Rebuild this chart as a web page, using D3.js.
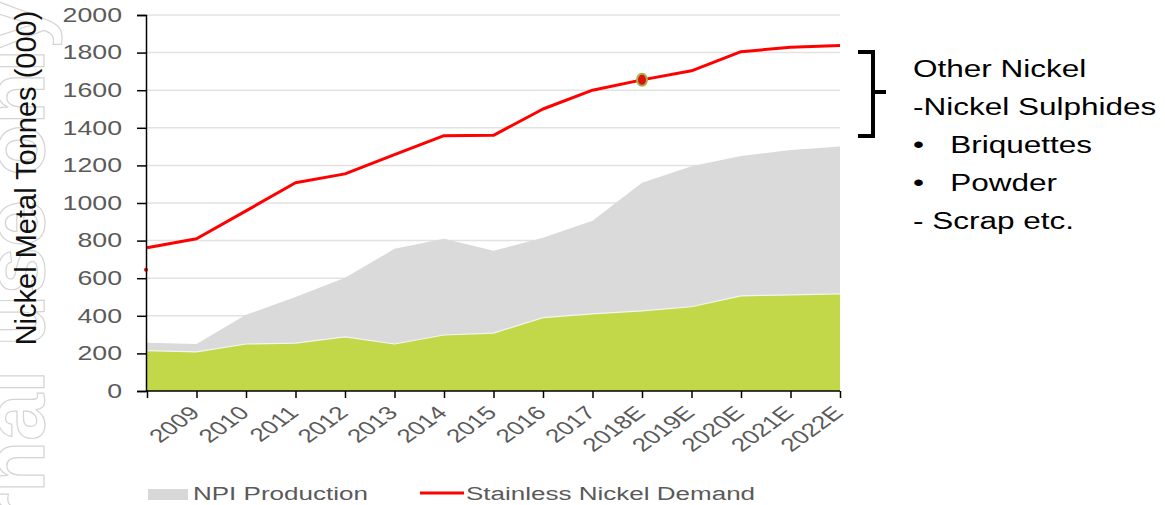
<!DOCTYPE html>
<html>
<head>
<meta charset="utf-8">
<script src="https://cdn.jsdelivr.net/npm/d3@7"></script>
<style>
  body { margin: 0; background: #fff; }
  svg { display: block; font-family: "Liberation Sans", Arial, sans-serif; }
</style>
</head>
<body>
<div id="chart"></div>
<script>
// data
const years = ["2008","2009","2010","2011","2012","2013","2014","2015","2016","2017","2018E","2019E","2020E","2021E","2022E"];
const otherNickel = [215, 208, 250, 255, 288, 250, 298, 308, 390, 410, 426, 448, 506, 511, 517];
const npiTotal = [256, 250, 405, 500, 602, 756, 810, 746, 815, 906, 1108, 1195, 1250, 1282, 1300];
const demand = [762, 810, 958, 1108, 1155, 1257, 1358, 1360, 1500, 1600, 1655, 1703, 1805, 1828, 1838];
const yTicks = [0, 200, 400, 600, 800, 1000, 1200, 1400, 1600, 1800, 2000];
const noteLines = ["Other Nickel", "-Nickel Sulphides", "\u2022   Briquettes", "\u2022   Powder", "- Scrap etc."];

function drawChart(){
  let width = 1165, height = 505;
  let margin = {top: 15, left: 146, right: 325, bottom: 114};
  let S = 1.37; //the source picture is stretched sideways, texts too

  let svg = d3.select("#chart").append("svg")
    .attr("width", width)
    .attr("height", height);

  //watermark
  svg.append("text")
    .attr("transform", "translate(44,677) rotate(-90)")
    .attr("font-size", 85)
    .attr("font-weight", "bold")
    .attr("fill", "none")
    .attr("stroke", "#d4d4d4")
    .attr("stroke-width", 1.2)
    .text("Internal use only");

  let x = d3.scalePoint()
    .domain(years)
    .range([margin.left + 1, width - margin.right]);

  let y = d3.scaleLinear()
    .domain([0, 2000])
    .range([height - margin.bottom, margin.top]);

  //grid
  svg.append("g")
    .selectAll("line")
    .data(yTicks.slice(1))
    .join("line")
    .attr("x1", margin.left)
    .attr("x2", width - margin.right)
    .attr("y1", d => y(d))
    .attr("y2", d => y(d))
    .attr("stroke", "#e2e2e2")
    .attr("stroke-width", 1.5);

  let rows = years.map((yr, i) => ({yr: yr, low: otherNickel[i], top: npiTotal[i], dem: demand[i]}));

  //npi area (grey)
  svg.append("path")
    .datum(rows)
    .attr("fill", "#dadada")
    .attr("d", d3.area().x(d => x(d.yr)).y0(d => y(d.low)).y1(d => y(d.top)));

  //other nickel (green)
  svg.append("path")
    .datum(rows)
    .attr("fill", "#c2d849")
    .attr("d", d3.area().x(d => x(d.yr)).y0(y(0)).y1(d => y(d.low)));

  svg.append("path")
    .datum(rows)
    .attr("fill", "none")
    .attr("stroke", "#f4f4f4")
    .attr("stroke-width", 1.2)
    .attr("d", d3.line().x(d => x(d.yr)).y(d => y(d.low)));

  //demand line
  svg.append("path")
    .datum(rows)
    .attr("fill", "none")
    .attr("stroke", "#ff0000")
    .attr("stroke-width", 3)
    .attr("stroke-linejoin", "round")
    .attr("d", d3.line().x(d => x(d.yr)).y(d => y(d.dem)));

  //highlighted point 2018E
  svg.append("ellipse")
    .attr("cx", x("2018E"))
    .attr("cy", y(demand[10]))
    .attr("rx", 5)
    .attr("ry", 6)
    .attr("fill", "#e01010")
    .attr("stroke", "#9fb34a")
    .attr("stroke-width", 2);

  //stray marker on axis
  svg.append("circle")
    .attr("cx", margin.left)
    .attr("cy", y(645))
    .attr("r", 2)
    .attr("fill", "#ff0000");

  //y axis
  let yAxis = svg.append("g")
    .attr("transform", `translate(${margin.left},0)`)
    .call(d3.axisLeft(y).tickValues(yTicks).tickFormat(d3.format("d")).tickSize(9).tickPadding(15));
  yAxis.select(".domain").attr("stroke", "#000").attr("stroke-width", 1.5);
  yAxis.selectAll(".tick line").attr("stroke", "#000").attr("stroke-width", 1.5);
  yAxis.selectAll("text")
    .attr("x", -24 / S)
    .attr("transform", `scale(${S},1)`)
    .attr("font-size", 19.5)
    .attr("fill", "#5a5a5a")
    .attr("font-family", "Liberation Sans, Arial, sans-serif");

  //x axis
  let xAxis = svg.append("g")
    .attr("transform", `translate(0,${y(0)})`)
    .call(d3.axisBottom(x).tickSize(7).tickSizeOuter(0));
  xAxis.select(".domain").attr("stroke", "#000").attr("stroke-width", 1.5)
    .attr("d", `M${margin.left},0H${x("2022E")}`);
  xAxis.selectAll(".tick line").attr("stroke", "#000").attr("stroke-width", 1.5);
  xAxis.selectAll("text")
    .attr("font-size", 19)
    .attr("fill", "#5a5a5a")
    .attr("font-family", "Liberation Sans, Arial, sans-serif")
    .attr("text-anchor", "end")
    .attr("x", 0).attr("y", 0).attr("dy", 0)
    .attr("transform", `translate(4,23) scale(${S},1) rotate(-45)`)
    .style("display", d => d === "2008" ? "none" : null);

  //y label
  svg.append("text")
    .attr("transform", `translate(36,${(y(0) + y(2000)) / 2 - 25}) rotate(-90)`)
    .attr("text-anchor", "middle")
    .attr("font-size", 29)
    .attr("fill", "#111")
    .text("Nickel Metal Tonnes (000)");

  //legend
  svg.append("rect")
    .attr("x", 148).attr("y", 489).attr("width", 40).attr("height", 11)
    .attr("fill", "#d8d8d8");
  svg.append("text")
    .attr("transform", `translate(193,500) scale(${S},1)`)
    .attr("font-size", 19).attr("fill", "#5a5a5a")
    .text("NPI Production");
  svg.append("line")
    .attr("x1", 420).attr("x2", 464).attr("y1", 493).attr("y2", 493)
    .attr("stroke", "#ff0000").attr("stroke-width", 3);
  svg.append("text")
    .attr("transform", `translate(466,500) scale(${S},1)`)
    .attr("font-size", 19).attr("fill", "#5a5a5a")
    .text("Stainless Nickel Demand");

  //bracket
  svg.append("path")
    .attr("d", "M858,52 H873 V136 H858 M873,92 H886")
    .attr("fill", "none")
    .attr("stroke", "#000")
    .attr("stroke-width", 4);

  svg.append("g")
    .selectAll("text")
    .data(noteLines)
    .join("text")
    .attr("transform", (d, i) => `translate(913,${77 + i * 38}) scale(${S},1)`)
    .attr("font-size", 23)
    .attr("fill", "#000")
    .style("white-space", "pre")
    .text(d => d);
}

drawChart();
</script>
</body>
</html>
